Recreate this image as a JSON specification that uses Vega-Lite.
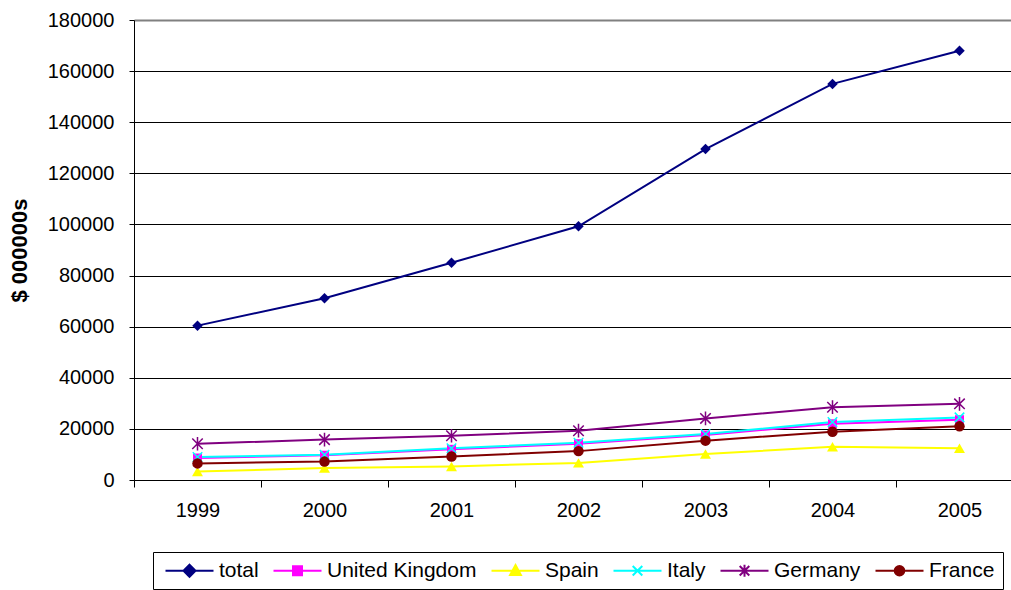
{
  "$schema": "https://vega.github.io/schema/vega-lite/v6.json",
  "autosize": {"type": "none"},
  "padding": {"left": 134, "top": 20, "right": 0, "bottom": 110},
  "width": 877,
  "height": 460,
  "background": "white",
  "config": {
    "font": "Liberation Sans",
    "view": {"stroke": null},
    "axis": {"labelColor": "black", "titleColor": "black", "domainColor": "black", "tickColor": "black"}
  },
  "data": {
    "values": [
      {"year": "1999", "series": "total", "value": 60400},
      {"year": "2000", "series": "total", "value": 71100},
      {"year": "2001", "series": "total", "value": 85000},
      {"year": "2002", "series": "total", "value": 99300},
      {"year": "2003", "series": "total", "value": 129500},
      {"year": "2004", "series": "total", "value": 155000},
      {"year": "2005", "series": "total", "value": 168000},
      {"year": "1999", "series": "United Kingdom", "value": 8600},
      {"year": "2000", "series": "United Kingdom", "value": 9700},
      {"year": "2001", "series": "United Kingdom", "value": 12000},
      {"year": "2002", "series": "United Kingdom", "value": 14200},
      {"year": "2003", "series": "United Kingdom", "value": 17600},
      {"year": "2004", "series": "United Kingdom", "value": 22000},
      {"year": "2005", "series": "United Kingdom", "value": 23600},
      {"year": "1999", "series": "Spain", "value": 3300},
      {"year": "2000", "series": "Spain", "value": 4700},
      {"year": "2001", "series": "Spain", "value": 5300},
      {"year": "2002", "series": "Spain", "value": 6700},
      {"year": "2003", "series": "Spain", "value": 10200},
      {"year": "2004", "series": "Spain", "value": 13000},
      {"year": "2005", "series": "Spain", "value": 12400},
      {"year": "1999", "series": "Italy", "value": 9000},
      {"year": "2000", "series": "Italy", "value": 9900},
      {"year": "2001", "series": "Italy", "value": 12400},
      {"year": "2002", "series": "Italy", "value": 14600},
      {"year": "2003", "series": "Italy", "value": 18000},
      {"year": "2004", "series": "Italy", "value": 22700},
      {"year": "2005", "series": "Italy", "value": 24500},
      {"year": "1999", "series": "Germany", "value": 14200},
      {"year": "2000", "series": "Germany", "value": 15800},
      {"year": "2001", "series": "Germany", "value": 17300},
      {"year": "2002", "series": "Germany", "value": 19300},
      {"year": "2003", "series": "Germany", "value": 24100},
      {"year": "2004", "series": "Germany", "value": 28500},
      {"year": "2005", "series": "Germany", "value": 29800},
      {"year": "1999", "series": "France", "value": 6500},
      {"year": "2000", "series": "France", "value": 7200},
      {"year": "2001", "series": "France", "value": 9200},
      {"year": "2002", "series": "France", "value": 11300},
      {"year": "2003", "series": "France", "value": 15400},
      {"year": "2004", "series": "France", "value": 18900},
      {"year": "2005", "series": "France", "value": 21000}
    ]
  },
  "encoding": {
    "x": {
      "field": "year", "type": "ordinal",
      "scale": {"type": "band", "range": [0, 889], "paddingInner": 0, "paddingOuter": 0},
      "axis": {"title": null, "labelAngle": 0, "labelFontSize": 20, "tickBand": "extent", "tickSize": 7, "labelPadding": 13, "grid": false, "domainWidth": 1}
    },
    "y": {
      "field": "value", "type": "quantitative",
      "scale": {"domain": [0, 180000], "nice": false},
      "axis": {
        "title": "$ 000000s", "titleFontSize": 22, "titleFontWeight": "bold", "titlePadding": 16,
        "values": [0, 20000, 40000, 60000, 80000, 100000, 120000, 140000, 160000, 180000],
        "format": "d", "labelFontSize": 20, "tickSize": 5, "labelPadding": 15,
        "grid": true,
        "gridColor": {"condition": {"test": "datum.value === 180000", "value": "#808080"}, "value": "black"},
        "gridWidth": {"condition": {"test": "datum.value === 180000", "value": 2}, "value": 1}
      }
    },
    "color": {
      "field": "series", "type": "nominal",
      "scale": {
        "domain": ["total", "United Kingdom", "Spain", "Italy", "Germany", "France"],
        "range": ["#000080", "#FF00FF", "#FFFF00", "#00FFFF", "#800080", "#800000"]
      },
      "legend": {
        "title": null, "orient": "none", "legendX": 19, "legendY": 532,
        "direction": "horizontal", "columns": 6, "columnPadding": 10,
        "padding": 8, "strokeColor": "black", "fillColor": "white",
        "labelFontSize": 21, "labelColor": "black", "labelOffset": 37,
        "symbolSize": 144, "symbolStrokeWidth": 2,
        "encode": {
          "symbols": {
            "update": {
              "shape": {"signal": "datum.value === 'total' ? 'M-1,0H7M3,-1L4,0L3,1L2,0Z' : datum.value === 'United Kingdom' ? 'M-1,0H7M2.25,-0.75H3.75V0.75H2.25Z' : datum.value === 'Spain' ? 'M-1,0H7M3,-0.95L3.9,0.7H2.1Z' : datum.value === 'Italy' ? 'M-1,0H7M2.2,-0.8L3.8,0.8M2.2,0.8L3.8,-0.8' : datum.value === 'Germany' ? 'M-1,0H7M2.2,-0.8L3.8,0.8M2.2,0.8L3.8,-0.8M3,-1V1' : 'M-1,0H7M3.8,0A0.8,0.8,0,1,1,2.2,0A0.8,0.8,0,1,1,3.8,0Z'"},
              "fill": {"scale": "color", "field": "value"},
              "stroke": {"scale": "color", "field": "value"},
              "strokeWidth": {"value": 2},
              "opacity": {"value": 1}
            }
          }
        }
      }
    }
  },
  "layer": [
    {"mark": {"type": "line", "strokeWidth": 2}},
    {"transform": [{"filter": "datum.series === 'total'"}], "mark": {"type": "point", "shape": "diamond", "filled": true, "size": 110, "opacity": 1}},
    {"transform": [{"filter": "datum.series === 'United Kingdom'"}], "mark": {"type": "point", "shape": "square", "filled": true, "size": 81, "opacity": 1}},
    {"transform": [{"filter": "datum.series === 'Spain'"}], "mark": {"type": "point", "shape": "triangle-up", "filled": true, "size": 120, "opacity": 1}},
    {"transform": [{"filter": "datum.series === 'Italy'"}], "mark": {"type": "point", "shape": "M-1,-1L1,1M-1,1L1,-1", "filled": false, "size": 90, "strokeWidth": 1.5, "opacity": 1}},
    {"transform": [{"filter": "datum.series === 'Germany'"}], "mark": {"type": "point", "shape": "M-1,-1L1,1M-1,1L1,-1M0,-1.3L0,1.3", "filled": false, "size": 110, "strokeWidth": 1.5, "opacity": 1}},
    {"transform": [{"filter": "datum.series === 'France'"}], "mark": {"type": "point", "shape": "circle", "filled": true, "size": 110, "opacity": 1}}
  ]
}
